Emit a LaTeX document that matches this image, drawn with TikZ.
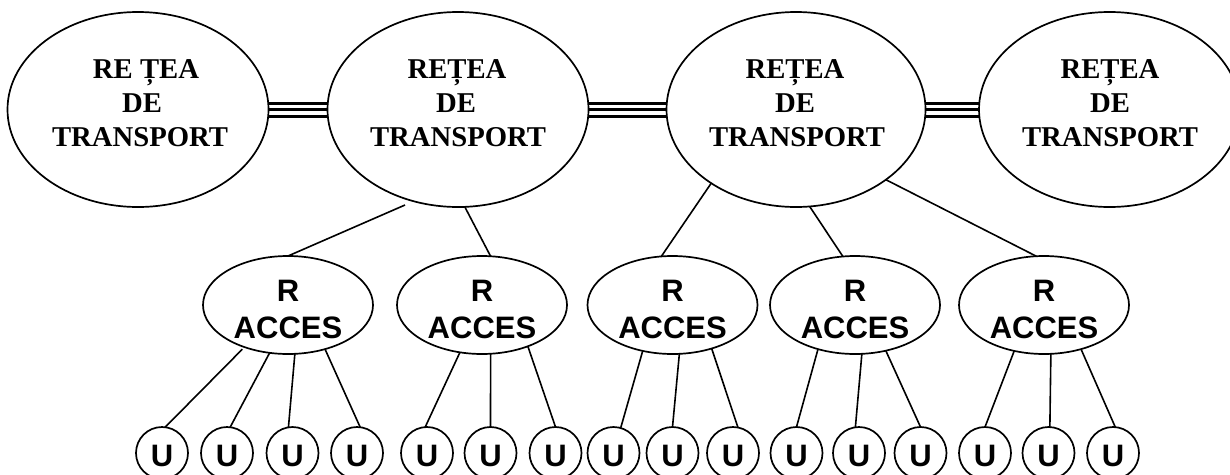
\documentclass[tikz,border=0pt]{standalone}
\usepackage{fontspec}
\usetikzlibrary{shapes.geometric}
\setmainfont{Liberation Serif}
\newfontfamily\armhelv{Liberation Sans}
\tikzset{
  bigell/.style={draw,ellipse,line width=1.7pt,inner sep=0pt,outer sep=0pt,minimum width=#1,minimum height=195pt},
  accell/.style={draw,ellipse,line width=1.7pt,inner sep=0pt,outer sep=0pt,minimum width=170pt,minimum height=98pt},
  ucirc/.style={draw,circle,line width=1.7pt,inner sep=0pt,outer sep=0pt,minimum size=52pt},
  bigtxt/.style={inner sep=0pt,anchor=base,font=\fontsize{28.7}{28.7}\selectfont\bfseries},
  smalltxt/.style={inner sep=0pt,anchor=base,font=\armhelv\fontsize{31}{31}\selectfont\bfseries},
  conn/.style={line width=1.6pt},
  trunk/.style={line width=2.9pt}
}
\begin{document}
\begin{tikzpicture}[x=1pt,y=-1pt]
\useasboundingbox (0,0) rectangle (1230,474);
\clip (0,0) rectangle (1230,474);
% big ellipses
\node[bigell=261pt] (N1) at (138,109.5) {};
\node[bigell=261pt] (N2) at (458,109.5) {};
\node[bigell=259pt] (N3) at (796,109.5) {};
\node[bigell=261pt] (N4) at (1109.5,109.5) {};
\foreach \n/\a/\b/\c/\ta/\tb/\tc in {a/146/142/140/RE ȚEA/DE/TRANSPORT,b/457/456/458/REȚEA/DE/TRANSPORT,c/795/795/797/REȚEA/DE/TRANSPORT,d/1110/1110/1110/REȚEA/DE/TRANSPORT}{
  \node[bigtxt] (t\n1) at (\a,78) {\ta};
  \node[bigtxt] (t\n2) at (\b,112) {\tb};
  \node[bigtxt] (t\n3) at (\c,146) {\tc};
}
% trunks
\foreach \u/\v in {N1/N2,N2/N3,N3/N4}{
  \draw[trunk] ([yshift=-7pt]\u.east) -- ([yshift=-7pt]\v.west);
  \draw[trunk] (\u.east) -- (\v.west);
  \draw[trunk] ([yshift=6pt]\u.east) -- ([yshift=6pt]\v.west);
}
% access
\foreach \n/\x in {A1/288,A2/482,A3/672.5,A4/855,A5/1044}{
  \node[accell] (\n) at (\x,305) {};
  \node[smalltxt] (\n r) at (\x,301) {R};
  \node[smalltxt] (\n t) at (\x,338) {ACCES};
}
% users
\foreach \n/\x in {1/162,2/227,3/292.5,4/357,5/427,6/490.5,7/555.5,8/613.5,9/672.5,10/733,11/796.5,12/859,13/920.5,14/985,15/1048.5,16/1113}{
  \node[ucirc] (U\n) at (\x,453) {};
  \node[smalltxt] (U\n t) at (\x,466) {U};
}
% transport to access
\coordinate (gapA) at (405,205);
\draw[conn] (gapA) -- (A1.north);
\draw[conn] (N2.-86.5) -- (A2.80.7);
\draw[conn] (N3.-139) -- (A3.103.4);
\draw[conn] (N3.-82.1) -- (A4.104.9);
\draw[conn] (N3.-38.2) -- (A5.99.3);
% access to users
\foreach \a/\aa/\u/\ua in {A1/-111.2/U2/83.4,A1/-82.4/U3/99.3,A1/-50.6/U4/83.4,
  A2/-115.8/U5/94.4,A2/-80.9/U6/90,A2/-42.5/U7/90,
  A3/-123.3/U8/74.5,A3/-82.6/U9/90,A3/-48.6/U10/79.8,
  A4/-130.2/U11/90,A4/-82.8/U12/98.1,A4/-56.6/U13/90,
  A5/-123.7/U14/90,A5/-82.8/U15/87,A5/-50/U16/85}{
  \draw[conn] (\a.\aa) -- (\u.\ua);
}
\draw[conn,shorten <=3pt] (A1.-136.3) -- (U1.83.4);
\end{tikzpicture}
\end{document}
